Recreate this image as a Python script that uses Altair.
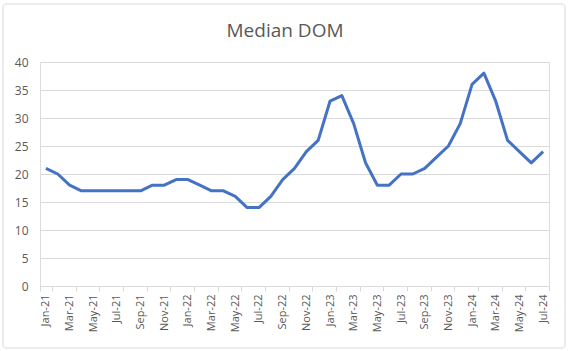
import altair as alt
import pandas as pd

months = ["Jan","Feb","Mar","Apr","May","Jun","Jul","Aug","Sep","Oct","Nov","Dec"]
labels = [f"{m}-{y}" for y in ["21","22","23"] for m in months] + [f"{m}-24" for m in months[:7]]
values = [21,20,18,17,17,17,17,17,17,18,18,19,
          19,18,17,17,16,14,14,16,19,21,24,26,
          33,34,29,22,18,18,20,20,21,23,25,29,
          36,38,33,26,24,22,24]
tick_labels = labels[::2]
title_text = "Median DOM"

df = pd.DataFrame({"month": labels, "dom": values})

W, H = 509, 224
FONT = "Open Sans"
GRAY = "#595959"
GRID = "#d9d9d9"

line = alt.Chart(df).mark_line(color="#4472C4", strokeWidth=3, strokeJoin="round").encode(
    x=alt.X("month:N", sort=labels, scale=alt.Scale(domain=labels, paddingInner=0, paddingOuter=0),
            axis=alt.Axis(values=tick_labels, title=None, labelAngle=-90, labelAlign="right",
                          labelBaseline="middle", labelFont=FONT, labelFontSize=11, labelColor=GRAY,
                          domainColor=GRID, tickColor=GRID, tickSize=5, tickBand="extent",
                          labelPadding=3, grid=False)),
    y=alt.Y("dom:Q", scale=alt.Scale(domain=[0, 40], nice=False),
            axis=alt.Axis(values=list(range(0, 41, 5)), title=None, labelFont=FONT, labelFontSize=12,
                          labelColor=GRAY, domain=False, ticks=False, labelPadding=12,
                          gridColor=GRID, gridWidth=1)),
)

one = pd.DataFrame({"t": [title_text]})

border = alt.Chart(one).mark_rect(
    fill=None, stroke="#d9d9d9", strokeWidth=1, cornerRadius=3
).encode(x=alt.value(-37), x2=alt.value(525), y=alt.value(-58), y2=alt.value(286))

title = alt.Chart(one).mark_text(
    font=FONT, fontSize=19, color=GRAY, align="center", baseline="alphabetic"
).encode(text="t:N", x=alt.value(245), y=alt.value(-25))

chart = alt.layer(border, line, title).properties(
    width=W, height=H,
    autosize=alt.AutoSizeParams(type="none"),
    padding={"left": 40, "top": 62, "right": 19, "bottom": 65},
).configure_view(stroke=None).configure(background="white")

chart.save("out.html", embed_options={"renderer": "svg", "actions": False})
